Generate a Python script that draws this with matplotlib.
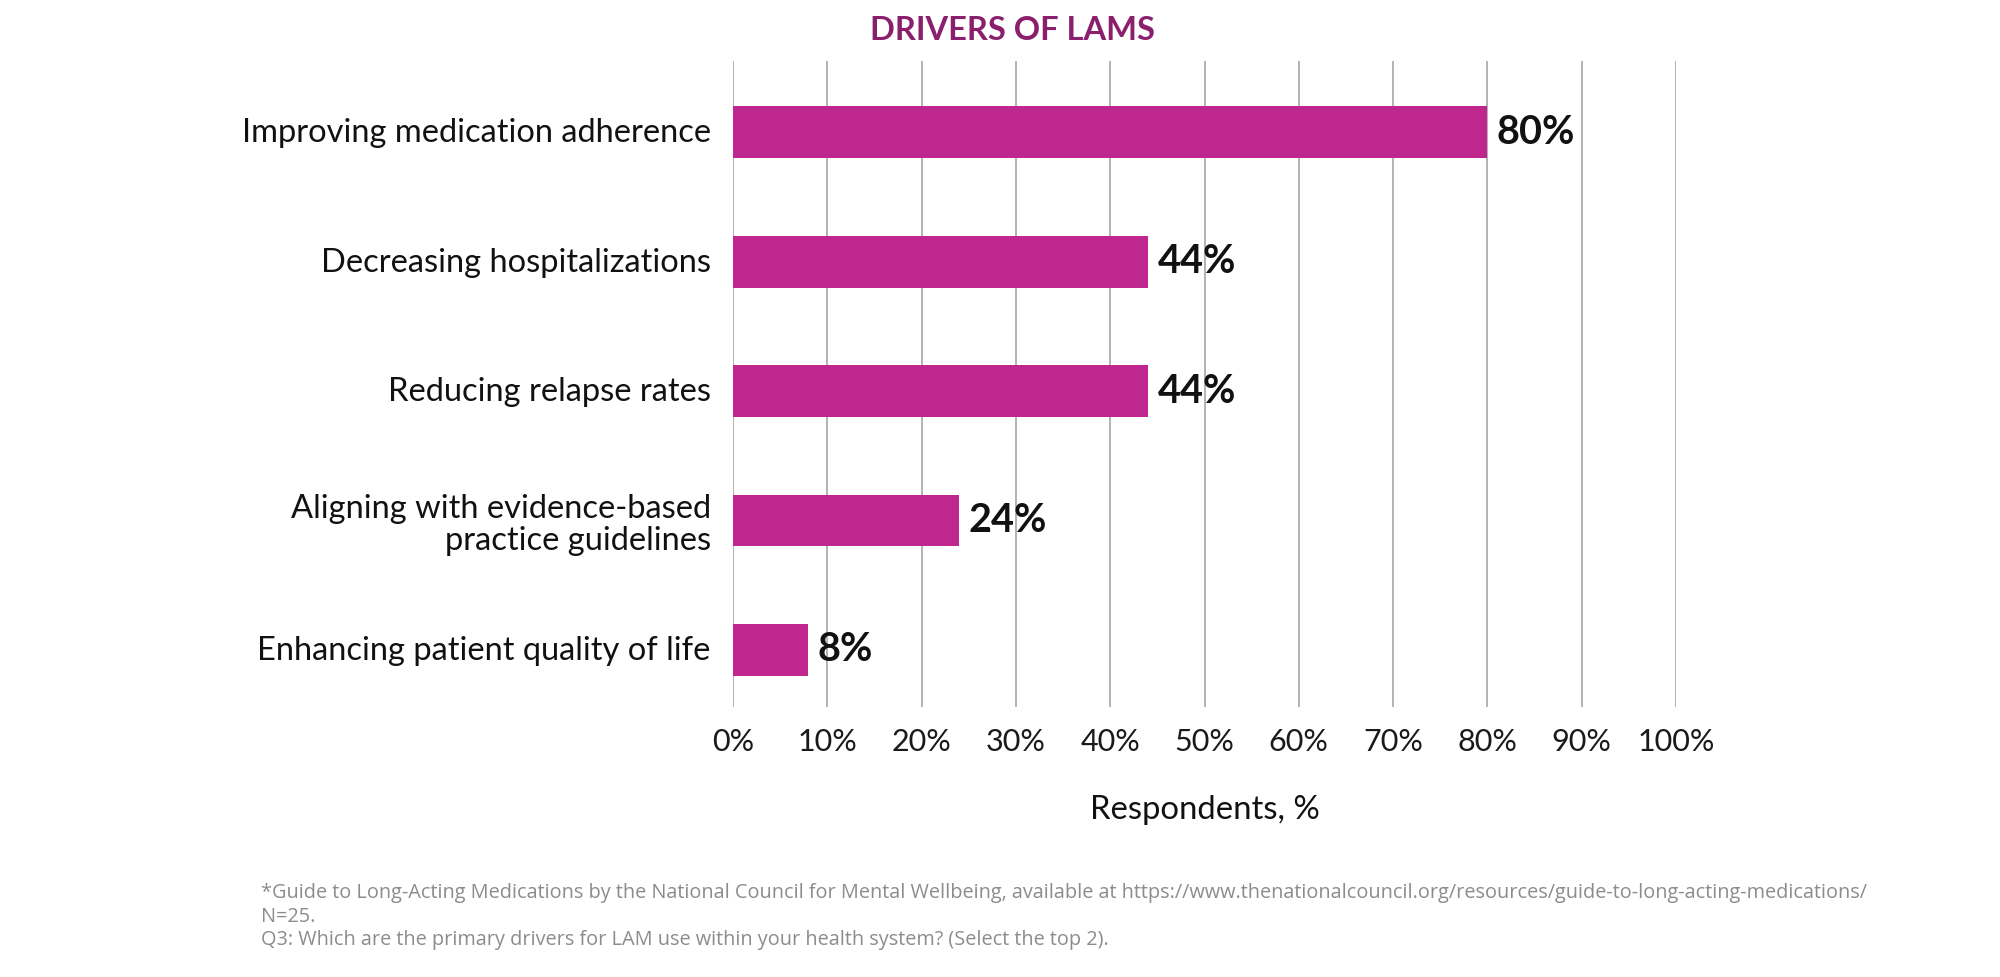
import matplotlib.pyplot as plt
from matplotlib.transforms import ScaledTranslation

categories = [
    "Improving medication adherence",
    "Decreasing hospitalizations",
    "Reducing relapse rates",
    "Aligning with evidence-based\npractice guidelines",
    "Enhancing patient quality of life",
]
values = [80, 44, 44, 24, 8]
x_ticks = [0, 10, 20, 30, 40, 50, 60, 70, 80, 90, 100]
title = "DRIVERS OF LAMS"
x_label = "Respondents, %"
footnotes = [
    "*Guide to Long-Acting Medications by the National Council for Mental Wellbeing, "
    "available at https://www.thenationalcouncil.org/resources/guide-to-long-acting-medications/",
    "N=25.",
    "Q3: Which are the primary drivers for LAM use within your health system? (Select the top 2).",
]

bar_color = "#C0278E"
title_color = "#8A1F6E"
grid_color = "#9E9E9E"

plt.rcParams['font.family'] = ['Lato', 'DejaVu Sans']

fig = plt.figure(figsize=(20, 9.77), dpi=100)
ax = fig.add_axes([0.3665, 0.2764, 0.4715, 0.6612])

ys = list(range(len(categories)))
ax.barh(ys, values, height=0.40, color=bar_color, zorder=3)
for y, v in zip(ys, values):
    ax.text(v + 1.0, y, f"{v}%", va='center', ha='left', fontsize=28.5,
            fontweight='bold', color='#111111', zorder=4)

ax.set_xlim(0, 100)
ax.set_ylim(len(categories) - 1 + 0.44, -0.55)
ax.set_xticks(x_ticks)
ax.set_xticklabels([f"{t}%" for t in x_ticks], fontsize=22, color='#1a1a1a')
ax.set_yticks(ys)
ax.set_yticklabels(categories, fontsize=23.5, color='#111111', linespacing=1.1)
ax.tick_params(axis='x', length=0, pad=15)
ax.tick_params(axis='y', length=0, pad=16)
ax.xaxis.grid(True, color=grid_color, linewidth=1.1, zorder=0)
ax.set_axisbelow(True)
for s in ax.spines.values():
    s.set_visible(False)

# nudge single-line category labels up a little
shift = ScaledTranslation(0, 1.5 / 72, fig.dpi_scale_trans)
for lbl in ax.get_yticklabels():
    if "\n" not in lbl.get_text():
        lbl.set_transform(lbl.get_transform() + shift)

ax.set_xlabel(x_label, fontsize=23.7, color='#111111', labelpad=28)

fig.text(1012 / 2000, 1 - 30 / 977, title, ha='center', va='center',
         fontsize=23.5, fontweight='bold', color=title_color)

for i, line in enumerate(footnotes):
    fig.text(261 / 2000, 1 - (893 + i * 23.5) / 977, line, ha='left', va='center',
             fontsize=14.3, color='#8C8C8C', family=['Open Sans', 'DejaVu Sans'])

fig.savefig("out.png", dpi=100)
